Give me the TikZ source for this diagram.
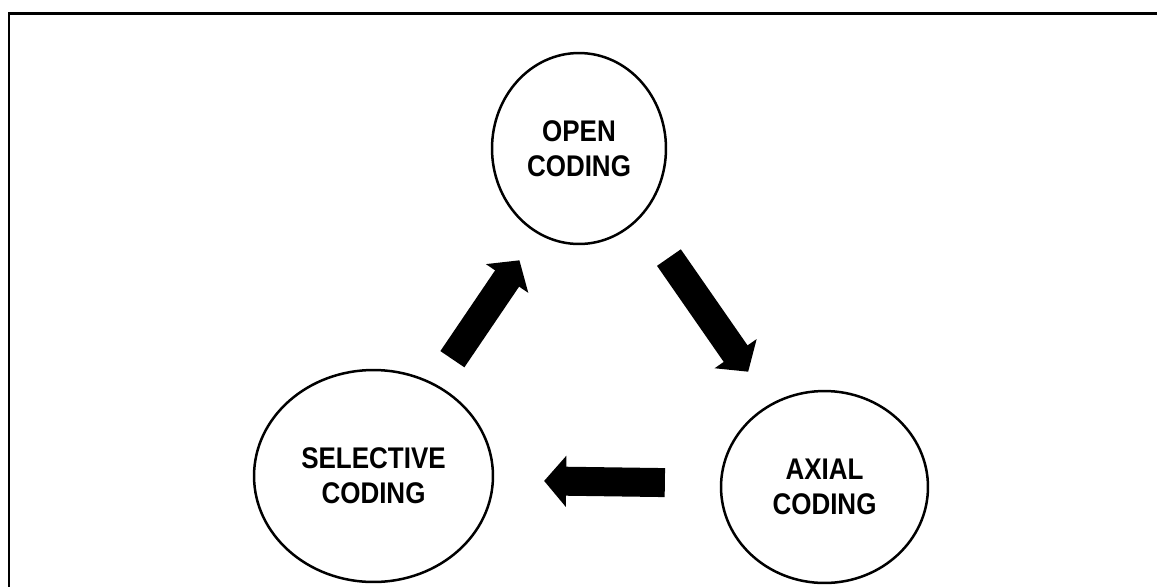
\documentclass[tikz,border=0pt]{standalone}
\usepackage{fontspec}
\setmainfont{Liberation Sans}
\newfontfamily\stagefont[FakeStretch=0.87]{Liberation Sans}
\usetikzlibrary{arrows.meta,shapes.geometric}

\begin{document}
\begin{tikzpicture}[x=0.02cm,y=-0.02cm,
        stage/.style={draw, ellipse, line width=0.05cm, inner sep=0pt, align=center,
            font=\stagefont\fontsize{17}{19.9}\selectfont\bfseries},
        flow/.style={line width=0.58cm, -{Triangle[width=1cm,length=0.44cm]}}]
        \useasboundingbox (0,0) rectangle (1157,586);
        \draw[line width=0.06cm] (9,13) rectangle (1200,640);
        \node[stage, minimum width=3.48cm, minimum height=3.82cm] (open) at (579,148.5) {OPEN\\CODING};
        \node[stage, minimum width=4.14cm, minimum height=3.84cm] (axial) at (824.5,487) {AXIAL\\CODING};
        \node[stage, minimum width=4.78cm, minimum height=4.24cm] (sel) at (373.5,476) {SELECTIVE\\CODING};
        \draw[flow, shorten <=0.98cm, shorten >=0.78cm] (open.-48) -- (axial.123.5);
        \draw[flow, shorten <=1.1cm, shorten >=1cm] (axial.178) -- (sel.-2.5);
        \draw[flow, shorten <=0.6cm, shorten >=0.64cm] (sel.56) -- (open.244);
    \end{tikzpicture}
\end{document}
